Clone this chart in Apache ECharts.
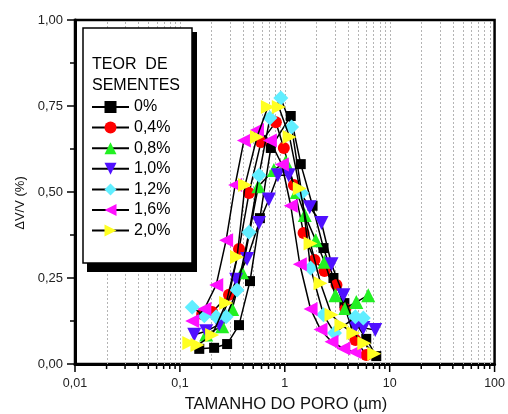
<!DOCTYPE html>
<html>
<head>
<meta charset="utf-8">
<script src="https://cdn.jsdelivr.net/npm/echarts@6.0.0/dist/echarts.min.js"></script>
<style>
  html, body { margin: 0; padding: 0; background: #fff; }
  #chart { width: 508px; height: 414px; }
</style>
</head>
<body>
<div id="chart"></div>
<script>
// Pore-size distribution for each seed content (TEOR DE SEMENTES)
const seriesNames = ['0%', '0,4%', '0,8%', '1,0%', '1,2%', '1,6%', '2,0%'];

const poreSize00 = [0.153, 0.212, 0.282, 0.366, 0.466, 0.579, 0.736, 1.14, 1.42, 1.84, 2.34, 2.91, 3.70, 4.71, 5.98, 7.45];
const volume00   = [0.044, 0.047, 0.058, 0.113, 0.241, 0.424, 0.628, 0.721, 0.581, 0.460, 0.337, 0.250, 0.177, 0.120, 0.073, 0.023];

const poreSize04 = [0.163, 0.203, 0.294, 0.366, 0.456, 0.593, 0.822, 0.979, 1.22, 1.51, 1.92, 2.39, 3.11, 3.78, 4.71, 5.98];
const volume04   = [0.145, 0.151, 0.201, 0.334, 0.497, 0.645, 0.703, 0.628, 0.520, 0.381, 0.302, 0.270, 0.230, 0.160, 0.070, 0.026];

const poreSize08 = [0.178, 0.253, 0.315, 0.391, 0.560, 0.787, 1.02, 1.30, 1.55, 1.97, 2.39, 3.04, 3.78, 4.81, 6.25];
const volume08   = [0.086, 0.110, 0.160, 0.267, 0.517, 0.564, 0.587, 0.500, 0.433, 0.360, 0.297, 0.200, 0.163, 0.180, 0.200];

const poreSize10 = [0.137, 0.178, 0.237, 0.344, 0.437, 0.568, 0.705, 0.859, 1.09, 1.73, 2.24, 2.79, 3.62, 4.71, 5.61, 7.29];
const volume10   = [0.085, 0.095, 0.115, 0.245, 0.305, 0.410, 0.478, 0.549, 0.549, 0.456, 0.410, 0.290, 0.200, 0.108, 0.105, 0.099];

const poreSize12 = [0.131, 0.171, 0.222, 0.276, 0.351, 0.456, 0.568, 0.721, 0.916, 1.16, 1.45, 1.76, 2.34, 2.98, 4.71, 5.61];
const volume12   = [0.165, 0.140, 0.137, 0.137, 0.215, 0.383, 0.549, 0.715, 0.773, 0.689, 0.497, 0.279, 0.143, 0.090, 0.137, 0.134];

const poreSize16 = [0.131, 0.171, 0.222, 0.276, 0.336, 0.408, 0.543, 0.721, 0.938, 1.14, 1.39, 1.76, 2.19, 2.79, 3.62, 4.61];
const volume16   = [0.125, 0.160, 0.230, 0.360, 0.520, 0.650, 0.680, 0.650, 0.580, 0.460, 0.290, 0.160, 0.100, 0.065, 0.045, 0.035];

const poreSize20 = [0.123, 0.147, 0.203, 0.276, 0.351, 0.418, 0.543, 0.690, 0.877, 1.11, 1.39, 1.76, 2.19, 2.79, 3.47, 4.51, 5.73, 7.13];
const volume20   = [0.061, 0.055, 0.084, 0.177, 0.311, 0.520, 0.660, 0.747, 0.747, 0.660, 0.510, 0.350, 0.235, 0.143, 0.113, 0.090, 0.060, 0.030];

// Axis ticks and labels
const xTickValues = [0.01, 0.1, 1, 10, 100];
const xTickLabels = ['0,01', '0,1', '1', '10', '100'];
const yTickLabels = ['0,00', '0,25', '0,50', '0,75', '1,00'];
const xMinorSteps = [2, 3, 4, 5, 6, 7, 8, 9];
const xDecades = [0.01, 0.1, 1, 10];

const poreSizes = [poreSize00, poreSize04, poreSize08, poreSize10, poreSize12, poreSize16, poreSize20];
const volumes   = [volume00, volume04, volume08, volume10, volume12, volume16, volume20];
const colors    = ['#000000', '#ff0000', '#22f022', '#5010ff', '#60eeff', '#ff10ff', '#ffff22'];
const symbols   = [
  'rect',
  'circle',
  'triangle',
  'path://M0,0L10,0L5,10Z',
  'diamond',
  'path://M10,0L0,5L10,10Z',
  'path://M0,0L10,5L0,10Z'
];
const symbolSizes = [10, 12, 14, 14, 15, 14, 14];

// Positions for the log-axis grid lines and ticks
const xGridValues = [];
xDecades.forEach(d => {
  xGridValues.push([d]);
  xMinorSteps.forEach(s => xGridValues.push([+(d * s).toPrecision(3)]));
});
xGridValues.push([100]);

const FONT = '"Liberation Sans", Arial, sans-serif';

const chart = echarts.init(document.getElementById('chart'), null, { renderer: 'canvas' });

const dataSeries = seriesNames.map((name, i) => ({
  name: name,
  type: 'line',
  data: poreSizes[i].map((x, k) => [x, volumes[i][k]]),
  symbol: symbols[i],
  symbolSize: symbolSizes[i],
  showAllSymbol: true,
  itemStyle: { color: colors[i], borderWidth: 0 },
  lineStyle: { color: '#000', width: 1.5 },
  z: 3 + i,
  animation: false
}));

const gridSeries = {
  type: 'custom',
  silent: true,
  animation: false,
  z: 1,
  data: xGridValues,
  encode: { x: 0 },
  renderItem: function (params, api) {
    const v = api.value(0);
    const top = api.coord([v, 1]);
    const bot = api.coord([v, 0]);
    const isMajor = xTickValues.indexOf(v) >= 0;
    const isEdge = (v === 0.01 || v === 100);
    const children = [];
    if (!isEdge) {
      children.push({
        type: 'line',
        shape: { x1: Math.round(bot[0]) + 0.5, y1: bot[1], x2: Math.round(top[0]) + 0.5, y2: top[1] },
        style: { stroke: '#b4b4b4', lineWidth: 1, lineDash: [2, 2] }
      });
    }
    children.push({
      type: 'line',
      shape: { x1: bot[0], y1: bot[1], x2: bot[0], y2: bot[1] + (isMajor ? 8 : 5) },
      style: { stroke: '#000', lineWidth: 1.5 }
    });
    return { type: 'group', children: children };
  }
};

chart.setOption({
  animation: false,
  backgroundColor: '#fff',
  grid: {
    left: 75, right: 11, top: 20, bottom: 50,
    show: true, borderColor: '#000', borderWidth: 2.5, backgroundColor: 'transparent'
  },
  xAxis: {
    type: 'log',
    logBase: 10,
    min: 0.01,
    max: 100,
    axisLine: { show: true, lineStyle: { color: '#000', width: 3 } },
    axisTick: { show: false },
    minorTick: { show: false },
    splitLine: { show: false },
    axisLabel: {
      margin: 13,
      color: '#222',
      fontSize: 12.5,
      fontFamily: FONT,
      showMinLabel: true,
      showMaxLabel: true,
      formatter: function (v) {
        const i = xTickValues.findIndex(t => Math.abs(Math.log10(t) - Math.log10(v)) < 1e-6);
        return i >= 0 ? xTickLabels[i] : '';
      }
    }
  },
  yAxis: {
    type: 'value',
    min: 0,
    max: 1,
    interval: 0.25,
    axisLine: { show: true, lineStyle: { color: '#000', width: 3 } },
    axisTick: { show: true, length: 8, lineStyle: { color: '#000', width: 1.5 } },
    minorTick: { show: true, splitNumber: 2, length: 5, lineStyle: { color: '#000', width: 1.5 } },
    splitLine: { show: false },
    axisLabel: {
      margin: 12,
      color: '#222',
      fontSize: 13,
      fontFamily: FONT,
      formatter: function (v) { return yTickLabels[Math.round(v / 0.25)]; }
    }
  },
  legend: {
    orient: 'vertical',
    left: 83,
    top: 28,
    padding: [69, 22, 22, 8],
    itemWidth: 37,
    itemHeight: 15,
    itemGap: 0.6,
    z: 20,
    selectedMode: false,
    data: seriesNames,
    textStyle: { fontSize: 16, fontFamily: FONT, color: '#000', lineHeight: 20 }
  },
  graphic: [
    // legend frame with its drop shadow
    { type: 'rect', z: 10, shape: { x: 192, y: 32, width: 5, height: 240 }, style: { fill: '#000' } },
    { type: 'rect', z: 10, shape: { x: 87, y: 263, width: 110, height: 9 }, style: { fill: '#000' } },
    { type: 'rect', z: 10, shape: { x: 83, y: 28, width: 109, height: 235 },
      style: { fill: '#fff', stroke: '#000', lineWidth: 1.5 } },
    { type: 'text', z: 11, style: { text: 'TEOR  DE', x: 92, y: 65, verticalAlign: 'middle',
      font: '16px ' + FONT, fill: '#000' } },
    { type: 'text', z: 11, style: { text: 'SEMENTES', x: 92, y: 86, verticalAlign: 'middle',
      font: '16px ' + FONT, fill: '#000' } },
    // axis titles
    { type: 'text', z: 11, x: 20, y: 203, rotation: Math.PI / 2,
      style: { text: 'ΔV/V (%)', align: 'center', verticalAlign: 'middle',
        font: '13px ' + FONT, fill: '#111' } },
    { type: 'text', z: 11, x: 286, y: 404,
      style: { text: 'TAMANHO DO PORO (\u00b5m)', align: 'center', verticalAlign: 'middle',
        font: '16.5px ' + FONT, fill: '#111' } }
  ],
  series: [gridSeries].concat(dataSeries)
});
</script>
</body>
</html>
